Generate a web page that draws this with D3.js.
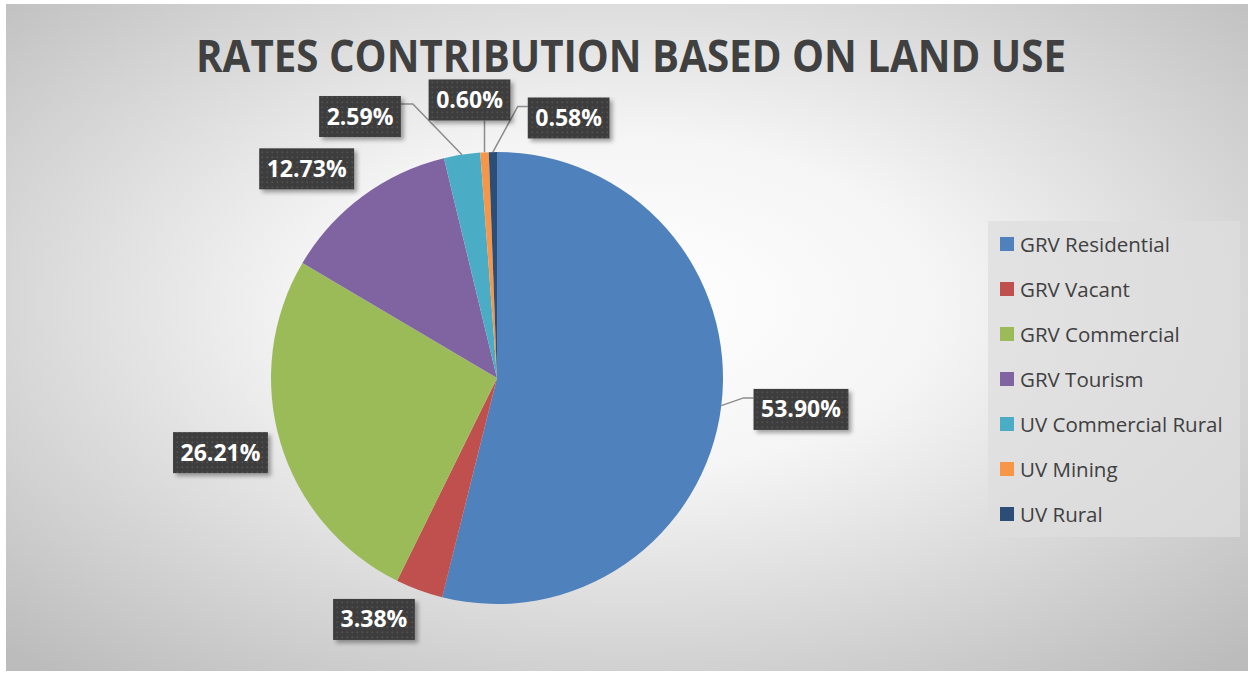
<!DOCTYPE html>
<html>
<head>
<meta charset="utf-8">
<script src="https://cdn.jsdelivr.net/npm/d3@7"></script>
<style>
  body { margin: 0; background: #fff; }
  svg { display: block; }
</style>
</head>
<body>
<svg></svg>
<script>
const categories = ["GRV Residential", "GRV Vacant", "GRV Commercial", "GRV Tourism", "UV Commercial Rural", "UV Mining", "UV Rural"];
const shares = [53.90, 3.38, 26.21, 12.73, 2.59, 0.60, 0.58];
const colours = ["#4F81BD", "#C0504D", "#9BBB59", "#8064A2", "#4BACC6", "#F79646", "#2C4D75"];
// where each data label sits: [degrees clockwise from 12 o'clock, distance from pie centre]
const labelAt = [[95.9, 305.6], [207, 271], [254.9, 286.4], [317.7, 282.8], [332.35, 295.2], [354.35, 279.4], [15.4, 269.7]];

const width = 1248, height = 674;
const cx = 497, cy = 378, radius = 226;

const svg = d3.select('svg')
    .attr('width', width)
    .attr('height', height);

const defs = svg.append('defs');
const grad = defs.append('radialGradient')
    .attr('id', 'bg')
    .attr('cx', '50%').attr('cy', '45%').attr('r', '72%');
grad.append('stop').attr('offset', '0%').attr('stop-color', '#ffffff');
grad.append('stop').attr('offset', '35%').attr('stop-color', '#f5f5f5');
grad.append('stop').attr('offset', '100%').attr('stop-color', '#bcbcbc');

const dots = defs.append('pattern')
    .attr('id', 'dots')
    .attr('patternUnits', 'userSpaceOnUse')
    .attr('width', 5).attr('height', 5);
dots.append('rect').attr('width', 5).attr('height', 5).attr('fill', '#3d3d3d');
dots.append('rect').attr('x', 1.5).attr('y', 1.5).attr('width', 1.6).attr('height', 1.6).attr('fill', '#525252');

defs.append('filter')
    .attr('id', 'shadow')
    .attr('x', '-20%').attr('y', '-20%').attr('width', '150%').attr('height', '160%')
    .append('feDropShadow')
    .attr('dx', 3).attr('dy', 3).attr('stdDeviation', 2)
    .attr('flood-color', '#000').attr('flood-opacity', 0.35);

// chart area
svg.append('rect')
    .attr('x', 6).attr('y', 4)
    .attr('width', width - 6).attr('height', height - 7)
    .attr('fill', 'url(#bg)');

svg.append('text')
    .attr('x', 631).attr('y', 72)
    .attr('text-anchor', 'middle')
    .attr('font-family', 'Open Sans, sans-serif')
    .attr('font-weight', 'bold')
    .attr('font-size', 45)
    .attr('fill', '#404040')
    .attr('textLength', 870)
    .attr('lengthAdjust', 'spacingAndGlyphs')
    .text('RATES CONTRIBUTION BASED ON LAND USE');

const data = categories.map((c, i) => ({ name: c, value: shares[i], i }));
const colour = d3.scaleOrdinal(categories, colours);

const pie = d3.pie().sort(null).value(d => d.value);
const arc = d3.arc().innerRadius(0).outerRadius(radius);
const arcs = pie(data);

const g = svg.append('g').attr('transform', `translate(${cx},${cy})`);
g.selectAll('path').data(arcs)
    .enter().append('path')
    .attr('d', arc)
    .attr('fill', d => colour(d.data.name));

// data labels
const fmt = v => d3.format('.2f')(v) + '%';
const labels = svg.append('g');
arcs.forEach((d, i) => {
    const a = labelAt[i][0] * Math.PI / 180, dist = labelAt[i][1];
    const lx = cx + dist * Math.sin(a), ly = cy - dist * Math.cos(a);
    const lg = labels.append('g');
    const txt = lg.append('text')
        .attr('x', lx).attr('y', ly + 8)
        .attr('text-anchor', 'middle')
        .attr('font-family', 'Open Sans, sans-serif')
        .attr('font-weight', 'bold')
        .attr('font-size', 23)
        .attr('fill', '#ffffff')
        .text(fmt(d.data.value));
    const tw = txt.node().getComputedTextLength();
    const bw = tw + 15, bh = 41;
    const box = { x0: lx - bw / 2, x1: lx + bw / 2, y0: ly - bh / 2, y1: ly + bh / 2 };
    lg.insert('rect', 'text')
        .attr('x', box.x0).attr('y', box.y0)
        .attr('width', bw).attr('height', bh)
        .attr('fill', 'url(#dots)')
        .attr('filter', 'url(#shadow)');

    // leader line from the slice edge when the label is far away
    const mid = (d.startAngle + d.endAngle) / 2;
    const p0 = [cx + radius * Math.sin(mid), cy - radius * Math.cos(mid)];
    let pts = null;
    if (p0[0] < box.x0 - 14) {
        const ey = box.y0 + 9;
        pts = [p0, [box.x0 - 10, ey], [box.x0, ey]];
    } else if (p0[0] > box.x1 + 14) {
        const ey = box.y0 + 8;
        pts = [p0, [box.x1 + 12, ey], [box.x1, ey]];
    } else if (p0[1] > box.y1 + 14) {
        pts = [p0, [p0[0], box.y1]];
    }
    if (pts) {
        labels.insert('path', ':first-child')
            .attr('d', d3.line()(pts))
            .attr('fill', 'none')
            .attr('stroke', '#8c8c8c')
            .attr('stroke-width', 1.5);
    }
});

// legend
const legendY = d3.scalePoint().domain(categories).range([244, 514]);
const legend = svg.append('g');
legend.append('rect')
    .attr('x', 988).attr('y', 221)
    .attr('width', 252).attr('height', 316)
    .attr('fill', '#dedede')
    .attr('fill-opacity', 0.75);
const item = legend.selectAll('.item').data(categories)
    .enter().append('g').attr('class', 'item')
    .attr('transform', d => `translate(1000,${legendY(d)})`);
item.append('rect')
    .attr('x', 0).attr('y', -7)
    .attr('width', 14).attr('height', 14)
    .attr('fill', d => colour(d));
item.append('text')
    .attr('x', 20).attr('y', 7.5)
    .attr('font-family', 'Open Sans, sans-serif')
    .attr('font-size', 20.5)
    .attr('fill', '#404040')
    .text(d => d);
</script>
</body>
</html>
